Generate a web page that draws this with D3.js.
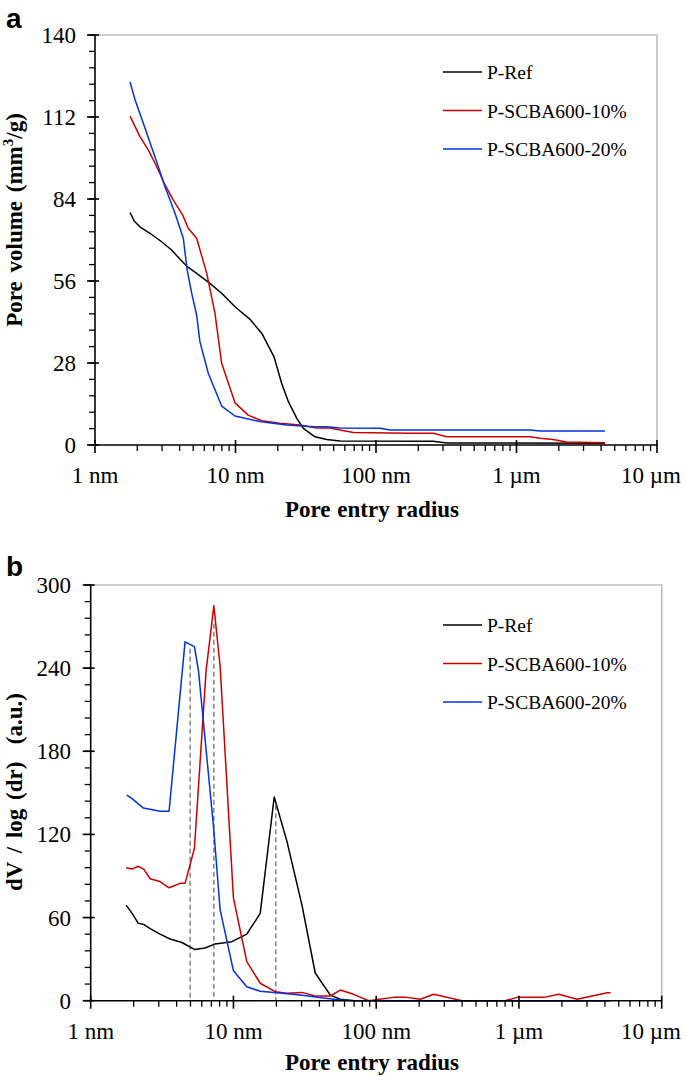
<!DOCTYPE html>
<html><head><meta charset="utf-8">
<script src="https://cdn.jsdelivr.net/npm/d3@7"></script>
<style>body{margin:0;background:#fff}svg{display:block}</style>
</head><body><svg id="c" width="685" height="1076"></svg>
<script>
// ---------- DATA ----------
const seriesNames = ["P-Ref", "P-SCBA600-10%", "P-SCBA600-20%"];
const seriesColors = ["#000000", "#cc0000", "#0033dd"];
const xTickValues = [1, 10, 100, 1000, 10000];
const xTickLabels = ["1 nm", "10 nm", "100 nm", "1 µm", "10 µm"];
const yTicksA = [0, 28, 56, 84, 112, 140];
const yTicksB = [0, 60, 120, 180, 240, 300];

// Panel a: cumulative pore volume (radius nm, mm3/g)
const refR_a = [1.775,1.905,2.09,2.46,2.98,3.51,4.03,4.49,5.29,6.58,7.97,9.92,12.7,15.4,18.8,21.3,23.8,27.3,30.4,36.8,44.6,55.4,255,320,4270];
const refV_a = [79.4,76.4,74.5,72.3,69.4,66.6,63.4,61.1,58.6,55.2,51.8,47.2,42.9,38.1,30.1,21.1,14.8,9.1,5.7,2.8,1.9,1.4,1.3,0.7,0.6];
const s10R_a = [1.775,2.09,2.40,2.75,3.15,3.61,4.21,4.61,5.29,6.24,7.14,7.97,9.92,12.3,15.4,20.7,28.7,37.8,47,55.4,69.2,175,256,318,1248,1470,1820,2277,4270];
const s10V_a = [112.3,105.3,100.7,95.0,88.8,83.6,78.5,74.0,70.6,58.6,45.0,27.9,14.4,10.2,8.3,7.4,6.8,5.8,5.8,5.1,4.3,4.0,4.0,2.8,2.8,2.3,1.9,1.0,0.8];
const s20R_a = [1.775,1.93,2.21,2.67,3.15,3.71,4.25,4.53,4.88,5.29,5.58,6.40,7.97,9.92,14.9,23.1,35.8,44.6,55.4,107,126,1248,1470,4270];
const s20V_a = [124,117.8,109.8,98.4,88.2,79.1,70.6,59.7,51.8,44.4,35.3,24.5,13.3,9.9,8.0,6.8,6.2,6.2,5.8,5.7,5.1,5.1,4.8,4.8];

// Panel b: dV/log(dr) (a.u.)
const refR_b = [1.77,1.95,2.15,2.35,2.61,3.06,3.60,4.35,5.33,6.33,7.44,9.75,12.4,15.4,19.3,23.7,30.2,37.4,47.7,56,70,4270];
const refV_b = [69,63,56,55,52,48,44.5,42,37,38,41,42.6,48,63,147,115,69,20,4,1,0,0];
const s10R_b = [1.77,1.95,2.15,2.35,2.61,3.06,3.54,4.23,4.58,5.33,6.43,7.29,8.07,10.0,12.4,15.4,19.6,23.7,30.2,37.4,47.7,56,69.5,88.5,132,164,204,253,400,804,971,1493,1902,2559,4150,4385];
const s10V_b = [96,95,97,95,88,86,81.5,84.7,84.7,110,238,285,241,74,28.2,12.6,6.5,5.3,6.0,3.4,3.4,7.7,4.6,0,2.4,2.4,1.0,4.6,0,0,2.4,2.4,4.6,1.0,5.8,5.8];
const s20R_b = [1.79,1.94,2.34,3.06,3.54,4.58,5.33,5.69,7.25,8.07,10.0,12.4,15.4,20.1,29.4,42.8,56,70,4385];
const s20V_b = [148.4,146,139,136.7,136.7,259,255.5,238,125.6,65.5,21.6,10.1,6.8,5.8,4.1,1.9,0.5,0,0];

// peak guide lines (panel b)
const peakR = [4.97, 7.29, 19.8];
const peakTop = [254, 272, 141];

// ---------- DRAW ----------
const svg = d3.select("#c");
const serif = "'Liberation Serif','Times New Roman',serif";

function panel(cfg) {
  const x = d3.scaleLog().domain([1, 10000]).range([cfg.left, cfg.right]);
  const y = d3.scaleLinear().domain([0, cfg.yMax]).range([cfg.bottom, cfg.top]);
  const g = svg.append("g");

  // frame top/right (grey)
  g.append("path").attr("d", `M${cfg.left},${cfg.top}H${cfg.right}V${cfg.bottom}`)
    .attr("fill", "none").attr("stroke", "#bdbdbd").attr("stroke-width", 1.6);

  // dashed guides
  if (cfg.guides) {
    cfg.guides.r.forEach((r, i) => {
      g.append("line").attr("x1", x(r)).attr("x2", x(r))
        .attr("y1", y(cfg.guides.top[i])).attr("y2", y(0))
        .attr("stroke", "#8c8c8c").attr("stroke-width", 1.6).attr("stroke-dasharray", "5,3");
    });
  }

  // curves
  const line = d3.line().x(d => x(d[0])).y(d => y(d[1]));
  cfg.series.forEach((s, i) => {
    g.append("path").datum(s[0].map((r, k) => [r, s[1][k]]))
      .attr("d", line).attr("fill", "none")
      .attr("stroke", seriesColors[i]).attr("stroke-width", 1.5).attr("stroke-linejoin", "round");
  });

  // x axis
  const minorX = [];
  for (let d = 1; d < 10000; d *= 10) for (let m = 2; m <= 9; m++) minorX.push(d * m);
  const xa = g.append("g");
  xa.append("line").attr("x1", cfg.left).attr("x2", cfg.right).attr("y1", cfg.bottom).attr("y2", cfg.bottom)
    .attr("stroke", "#000").attr("stroke-width", 1.6);
  xa.selectAll("line.mn").data(minorX).enter().append("line")
    .attr("x1", d => x(d)).attr("x2", d => x(d)).attr("y1", cfg.bottom).attr("y2", cfg.bottom + 6)
    .attr("stroke", "#000").attr("stroke-width", 1.3);
  xa.selectAll("line.mj").data(xTickValues).enter().append("line")
    .attr("x1", d => x(d)).attr("x2", d => x(d)).attr("y1", cfg.bottom - 5).attr("y2", cfg.bottom + 8)
    .attr("stroke", "#000").attr("stroke-width", 1.6);
  xa.selectAll("text").data(xTickValues).enter().append("text")
    .attr("x", (d, i) => i === xTickValues.length - 1 ? 681 : x(d))
    .attr("y", cfg.bottom + 38)
    .attr("text-anchor", (d, i) => i === xTickValues.length - 1 ? "end" : "middle")
    .attr("font-family", serif).attr("font-size", 23).text((d, i) => xTickLabels[i]);

  // y axis
  const step = cfg.yTicks[1] - cfg.yTicks[0];
  const minorY = d3.range(0, cfg.yMax + 0.001, step / 5);
  const ya = g.append("g");
  ya.append("line").attr("x1", cfg.left).attr("x2", cfg.left).attr("y1", cfg.top).attr("y2", cfg.bottom)
    .attr("stroke", "#000").attr("stroke-width", 1.6);
  ya.selectAll("line.mn").data(minorY).enter().append("line")
    .attr("x1", cfg.left - 6).attr("x2", cfg.left).attr("y1", d => y(d)).attr("y2", d => y(d))
    .attr("stroke", "#000").attr("stroke-width", 1.3);
  ya.selectAll("line.mj").data(cfg.yTicks).enter().append("line")
    .attr("x1", cfg.left - 8).attr("x2", cfg.left + 4).attr("y1", d => y(d)).attr("y2", d => y(d))
    .attr("stroke", "#000").attr("stroke-width", 1.6);
  ya.selectAll("text").data(cfg.yTicks).enter().append("text")
    .attr("x", cfg.tickLabelX).attr("y", d => y(d) + 8).attr("text-anchor", "end")
    .attr("font-family", serif).attr("font-size", 23).text(d => d);

  // axis titles
  g.append("text").attr("x", cfg.xTitleX).attr("y", cfg.bottom + cfg.xTitleDy).attr("text-anchor", "middle")
    .attr("font-family", serif).attr("font-size", 23).attr("font-weight", "bold")
    .attr("word-spacing", 1).text("Pore entry radius");
  const yt = g.append("text").attr("transform", `translate(22,${cfg.yTitleY}) rotate(-90)`)
    .attr("text-anchor", "middle").attr("font-family", serif).attr("font-size", 23).attr("font-weight", "bold")
    .attr("word-spacing", 3);
  cfg.yTitle(yt);

  // panel letter
  g.append("text").attr("x", 6).attr("y", cfg.letterY).attr("font-family", "'Liberation Sans',Arial,sans-serif")
    .attr("font-size", 28).attr("font-weight", "bold").text(cfg.letter);

  // legend
  seriesNames.forEach((n, i) => {
    const ly = cfg.legendY + i * 38.5;
    g.append("line").attr("x1", 443).attr("x2", 482).attr("y1", ly).attr("y2", ly)
      .attr("stroke", seriesColors[i]).attr("stroke-width", 1.5);
    g.append("text").attr("x", 487).attr("y", ly + 7).attr("font-family", serif).attr("font-size", 19.5).text(n);
  });
}

panel({
  left: 95, right: 657, top: 35, bottom: 445, yMax: 140, yTicks: yTicksA, tickLabelX: 76,
  xTitleX: 372, xTitleDy: 72, yTitleY: 220, letter: "a", letterY: 28, legendY: 72,
  series: [[refR_a, refV_a], [s10R_a, s10V_a], [s20R_a, s20V_a]],
  yTitle: t => { t.append("tspan").text("Pore volume (mm");
                 t.append("tspan").attr("font-size", 15).attr("dy", -9).text("3");
                 t.append("tspan").attr("dy", 9).text("/g)"); }
});
panel({
  left: 90.7, right: 661.7, top: 585, bottom: 1000.7, yMax: 300, yTicks: yTicksB, tickLabelX: 71,
  xTitleX: 372, xTitleDy: 69, yTitleY: 792, letter: "b", letterY: 576, legendY: 625,
  guides: { r: peakR, top: peakTop },
  series: [[refR_b, refV_b], [s10R_b, s10V_b], [s20R_b, s20V_b]],
  yTitle: t => t.text("dV / log (dr)  (a.u.)").attr("xml:space", "preserve").style("white-space", "pre")
});
</script></body></html>
